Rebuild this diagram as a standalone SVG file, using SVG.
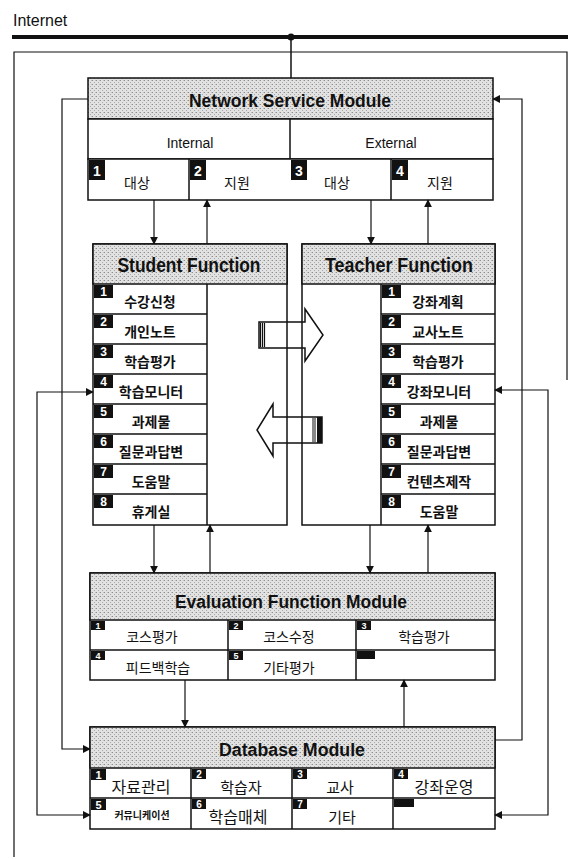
<svg xmlns="http://www.w3.org/2000/svg" width="568" height="859" viewBox="0 0 568 859">
<style>
.box{fill:#fff;stroke:#111;stroke-width:1.5}
.band{fill:url(#st);stroke:#111;stroke-width:1.5}
.ln{fill:none;stroke:#111;stroke-width:1.2}
.sep{fill:none;stroke:#111;stroke-width:1.5}
.title{font-family:"Liberation Sans",Arial,sans-serif;fill:#111;text-anchor:middle;font-weight:bold}
.lat{font-family:"Liberation Sans",Arial,sans-serif;fill:#111;font-size:14px;text-anchor:middle}
.ko{font-family:"Noto Sans CJK KR",sans-serif;fill:#111;font-size:14px;text-anchor:middle;font-weight:bold}
.kr{font-family:"Noto Sans CJK KR",sans-serif;fill:#111;font-size:14px;text-anchor:middle}
.bd{fill:#111}
.num{font-family:"Liberation Sans",Arial,sans-serif;fill:#fff;font-weight:bold;text-anchor:middle}
.con{fill:none;stroke:#111;stroke-width:1.2}
.blk{fill:none;stroke:#111;stroke-width:1.5;stroke-linejoin:miter}
</style>
<defs>
<pattern id="st" width="4" height="4" patternUnits="userSpaceOnUse">
<rect width="4" height="4" fill="#e2e2e2"/>
<rect x="0" y="0" width="1" height="1" fill="#8c8c8c"/>
<rect x="2" y="2" width="1" height="1" fill="#a8a8a8"/>
<rect x="3" y="0" width="1" height="1" fill="#c0c0c0"/>
</pattern>
<marker id="ah" viewBox="0 0 10 10" refX="9" refY="5" markerWidth="8" markerHeight="8" markerUnits="userSpaceOnUse" orient="auto-start-reverse">
<path d="M0,0 L10,5 L0,10 z" fill="#111"/>
</marker>
</defs>
<rect width="568" height="859" fill="#fff"/>

<g id="internet">
<text x="13" y="26" font-family="Liberation Sans,Arial,sans-serif" font-size="16" fill="#111">Internet</text>
<line x1="12" y1="37" x2="568" y2="37" stroke="#111" stroke-width="4"/>
<circle cx="291" cy="37" r="3.5" fill="#111"/>
<line x1="291" y1="37" x2="291" y2="78" stroke="#111" stroke-width="1.5"/>
</g>

<g id="frame">
<path class="ln" d="M14,857 V52 H567 V380"/>
</g>

<g id="nsm">
<rect class="band" x="88" y="78" width="405" height="41"/>
<text class="title" x="290" y="107" font-size="19" textLength="202" lengthAdjust="spacingAndGlyphs">Network Service Module</text>
<rect class="box" x="88" y="119" width="405" height="40"/>
<line class="sep" x1="290" y1="119" x2="290" y2="200"/>
<text class="lat" x="190" y="148">Internal</text>
<text class="lat" x="391" y="148">External</text>
<rect class="box" x="88" y="159" width="405" height="41" fill="none"/>
<line class="sep" x1="189" y1="159" x2="189" y2="200"/>
<line class="sep" x1="391" y1="159" x2="391" y2="200"/>
<rect class="bd" x="89" y="160" width="16" height="20"/><text class="num" x="97" y="176" font-size="14">1</text>
<rect class="bd" x="190" y="160" width="16" height="20"/><text class="num" x="198" y="176" font-size="14">2</text>
<rect class="bd" x="291" y="160" width="16" height="20"/><text class="num" x="299" y="176" font-size="14">3</text>
<rect class="bd" x="392" y="160" width="16" height="20"/><text class="num" x="400" y="176" font-size="14">4</text>
<text class="kr" x="137" y="188">대상</text>
<text class="kr" x="237" y="188">지원</text>
<text class="kr" x="337" y="188">대상</text>
<text class="kr" x="440" y="188">지원</text>
</g>

<g id="student">
<rect class="box" x="93" y="244" width="194" height="281"/>
<rect class="band" x="93" y="244" width="194" height="40"/>
<text class="title" x="189" y="272" font-size="20" textLength="143" lengthAdjust="spacingAndGlyphs">Student Function</text>
<line class="sep" x1="207" y1="284" x2="207" y2="525"/>
<path class="sep" d="M93,314 H207 M93,344 H207 M93,374 H207 M93,404 H207 M93,434 H207 M93,464 H207 M93,494 H207"/>
<g>
<rect class="bd" x="94" y="285" width="19" height="13"/><text class="num" x="103.5" y="296" font-size="12">1</text>
<rect class="bd" x="94" y="315" width="19" height="13"/><text class="num" x="103.5" y="326" font-size="12">2</text>
<rect class="bd" x="94" y="345" width="19" height="13"/><text class="num" x="103.5" y="356" font-size="12">3</text>
<rect class="bd" x="94" y="375" width="19" height="13"/><text class="num" x="103.5" y="386" font-size="12">4</text>
<rect class="bd" x="94" y="405" width="19" height="13"/><text class="num" x="103.5" y="416" font-size="12">5</text>
<rect class="bd" x="94" y="435" width="19" height="13"/><text class="num" x="103.5" y="446" font-size="12">6</text>
<rect class="bd" x="94" y="465" width="19" height="13"/><text class="num" x="103.5" y="476" font-size="12">7</text>
<rect class="bd" x="94" y="495" width="19" height="13"/><text class="num" x="103.5" y="506" font-size="12">8</text>
</g>
<text class="ko" x="150" y="307">수강신청</text>
<text class="ko" x="150" y="337">개인노트</text>
<text class="ko" x="150" y="367">학습평가</text>
<text class="ko" x="151" y="397">학습모니터</text>
<text class="ko" x="151" y="427">과제물</text>
<text class="ko" x="151" y="457">질문과답변</text>
<text class="ko" x="151" y="487">도움말</text>
<text class="ko" x="151" y="517">휴게실</text>
</g>

<g id="teacher">
<rect class="box" x="302" y="244" width="193" height="281"/>
<rect class="band" x="302" y="244" width="193" height="40"/>
<text class="title" x="399" y="272" font-size="20" textLength="148" lengthAdjust="spacingAndGlyphs">Teacher Function</text>
<line class="sep" x1="381" y1="284" x2="381" y2="525"/>
<path class="sep" d="M381,314 H495 M381,344 H495 M381,374 H495 M381,404 H495 M381,434 H495 M381,464 H495 M381,494 H495"/>
<g>
<rect class="bd" x="382" y="285" width="19" height="13"/><text class="num" x="391.5" y="296" font-size="12">1</text>
<rect class="bd" x="382" y="315" width="19" height="13"/><text class="num" x="391.5" y="326" font-size="12">2</text>
<rect class="bd" x="382" y="345" width="19" height="13"/><text class="num" x="391.5" y="356" font-size="12">3</text>
<rect class="bd" x="382" y="375" width="19" height="13"/><text class="num" x="391.5" y="386" font-size="12">4</text>
<rect class="bd" x="382" y="405" width="19" height="13"/><text class="num" x="391.5" y="416" font-size="12">5</text>
<rect class="bd" x="382" y="435" width="19" height="13"/><text class="num" x="391.5" y="446" font-size="12">6</text>
<rect class="bd" x="382" y="465" width="19" height="13"/><text class="num" x="391.5" y="476" font-size="12">7</text>
<rect class="bd" x="382" y="495" width="19" height="13"/><text class="num" x="391.5" y="506" font-size="12">8</text>
</g>
<text class="ko" x="438" y="307">강좌계획</text>
<text class="ko" x="438" y="337">교사노트</text>
<text class="ko" x="438" y="367">학습평가</text>
<text class="ko" x="439" y="397">강좌모니터</text>
<text class="ko" x="439" y="427">과제물</text>
<text class="ko" x="439" y="457">질문과답변</text>
<text class="ko" x="439" y="487">컨텐츠제작</text>
<text class="ko" x="439" y="517">도움말</text>
</g>

<g id="eval">
<rect class="box" x="90" y="573" width="405" height="107"/>
<rect class="band" x="90" y="573" width="405" height="47"/>
<text class="title" x="291" y="608" font-size="18" textLength="232" lengthAdjust="spacingAndGlyphs">Evaluation Function Module</text>
<line class="sep" x1="90" y1="650" x2="495" y2="650"/>
<line class="sep" x1="228" y1="620" x2="228" y2="680"/>
<line class="sep" x1="356" y1="620" x2="356" y2="680"/>
<rect class="bd" x="91" y="621" width="14" height="9"/><text class="num" x="98" y="629" font-size="9">1</text>
<rect class="bd" x="229" y="621" width="14" height="9"/><text class="num" x="236" y="629" font-size="9">2</text>
<rect class="bd" x="357" y="621" width="14" height="9"/><text class="num" x="364" y="629" font-size="9">3</text>
<rect class="bd" x="91" y="651" width="14" height="9"/><text class="num" x="98" y="659" font-size="9">4</text>
<rect class="bd" x="229" y="651" width="14" height="9"/><text class="num" x="236" y="659" font-size="9">5</text>
<rect class="bd" x="357" y="651" width="18" height="8"/>
<text class="kr" x="152" y="642">코스평가</text>
<text class="kr" x="289" y="642">코스수정</text>
<text class="kr" x="424" y="642">학습평가</text>
<text class="kr" x="158" y="673">피드백학습</text>
<text class="kr" x="289" y="673">기타평가</text>
</g>

<g id="database">
<rect class="box" x="90" y="727" width="405" height="102"/>
<rect class="band" x="90" y="727" width="405" height="41"/>
<text class="title" x="292" y="756" font-size="18" textLength="146" lengthAdjust="spacingAndGlyphs">Database Module</text>
<line class="sep" x1="90" y1="798" x2="495" y2="798"/>
<line class="sep" x1="191" y1="768" x2="191" y2="829"/>
<line class="sep" x1="292" y1="768" x2="292" y2="829"/>
<line class="sep" x1="393" y1="768" x2="393" y2="829"/>
<rect class="bd" x="91" y="769" width="15" height="11"/><text class="num" x="98.5" y="779" font-size="11">1</text>
<rect class="bd" x="192" y="769" width="14" height="10"/><text class="num" x="199" y="778" font-size="10">2</text>
<rect class="bd" x="293" y="769" width="14" height="10"/><text class="num" x="300" y="778" font-size="10">3</text>
<rect class="bd" x="394" y="769" width="14" height="10"/><text class="num" x="401" y="778" font-size="10">4</text>
<rect class="bd" x="91" y="799" width="15" height="11"/><text class="num" x="98.5" y="809" font-size="11">5</text>
<rect class="bd" x="192" y="799" width="14" height="10"/><text class="num" x="199" y="808" font-size="10">6</text>
<rect class="bd" x="293" y="799" width="14" height="10"/><text class="num" x="300" y="808" font-size="10">7</text>
<rect class="bd" x="394" y="799" width="20" height="8"/>
<text class="kr" x="141" y="793" style="font-size:16px">자료관리</text>
<text class="kr" x="241" y="793" style="font-size:15px">학습자</text>
<text class="kr" x="340" y="793" style="font-size:15px">교사</text>
<text class="kr" x="444" y="793" style="font-size:16px">강좌운영</text>
<text class="ko" x="142" y="819" style="font-size:10px">커뮤니케이션</text>
<text class="kr" x="238" y="823" style="font-size:16px">학습매체</text>
<text class="kr" x="342" y="823" style="font-size:15px">기타</text>
</g>

<g id="block-arrows">
<path class="blk" d="M259,322 H305 V309 L323,335 L305,361 V348 H259 Z"/>
<path class="ln" d="M260.5,323 V347 M262.5,323 V347 M264.5,323 V347"/>
<path class="blk" d="M322,417 H273 V404 L257,430 L273,456 V443 H322 Z"/>
<rect x="317" y="417" width="5" height="26" fill="#111"/>
<path class="ln" d="M313,418 V442 M315,418 V442" style="stroke-width:1"/>
</g>

<g id="connectors">
<line class="con" x1="154" y1="200" x2="154" y2="244" marker-end="url(#ah)"/>
<line class="con" x1="207" y1="244" x2="207" y2="200" marker-end="url(#ah)"/>
<line class="con" x1="371" y1="200" x2="371" y2="244" marker-end="url(#ah)"/>
<line class="con" x1="428" y1="244" x2="428" y2="200" marker-end="url(#ah)"/>
<line class="con" x1="154" y1="525" x2="154" y2="573" marker-end="url(#ah)"/>
<line class="con" x1="210" y1="573" x2="210" y2="525" marker-end="url(#ah)"/>
<line class="con" x1="370" y1="525" x2="370" y2="573" marker-end="url(#ah)"/>
<line class="con" x1="428" y1="573" x2="428" y2="525" marker-end="url(#ah)"/>
<line class="con" x1="185" y1="680" x2="185" y2="727" marker-end="url(#ah)"/>
<line class="con" x1="404" y1="727" x2="404" y2="680" marker-end="url(#ah)"/>
<path class="con" d="M88,99 H62 V749 H90" marker-end="url(#ah)"/>
<path class="con" d="M495,740 H522 V99 H493" marker-end="url(#ah)"/>
<path class="con" d="M93,392 H37 V815 H90" marker-start="url(#ah)" marker-end="url(#ah)"/>
<path class="con" d="M495,390 H548 V815 H495" marker-start="url(#ah)" marker-end="url(#ah)"/>
</g>
</svg>
